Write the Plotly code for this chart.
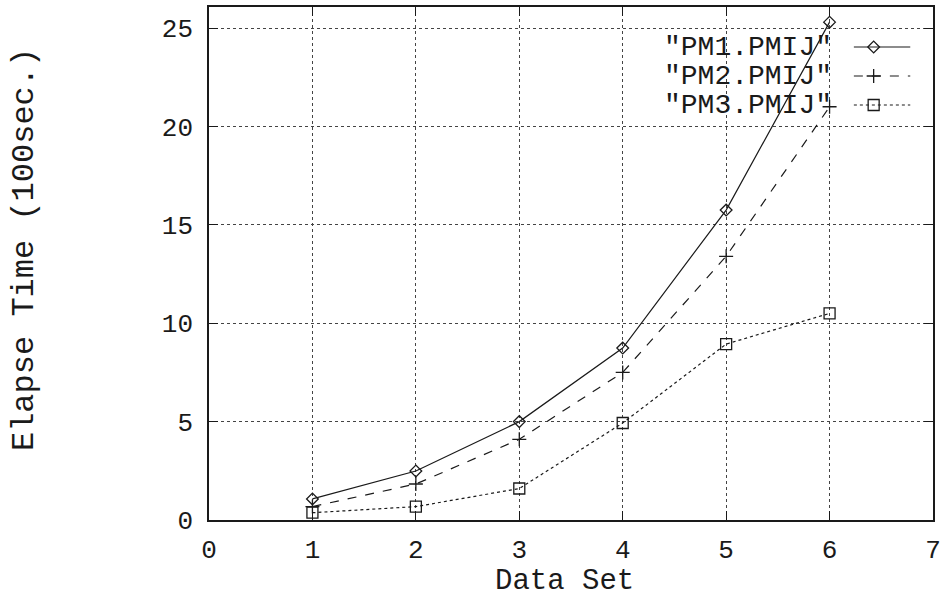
import plotly.graph_objects as go

# ---- data ----
data_set = [1, 2, 3, 4, 5, 6]
pm1 = [1.07, 2.49, 5.0, 8.74, 15.75, 25.3]
pm2 = [0.68, 1.83, 4.1, 7.5, 13.4, 21.0]
pm3 = [0.37, 0.68, 1.6, 4.93, 8.94, 10.5]
series_names = ['"PM1.PMIJ"', '"PM2.PMIJ"', '"PM3.PMIJ"']
x_ticks = [0, 1, 2, 3, 4, 5, 6, 7]
y_ticks = [0, 5, 10, 15, 20, 25]

FONT = "Liberation Mono, Courier New, monospace"
INK = "#1a1a1a"

styles = [
    dict(dash="solid", symbol="diamond-open", size=9),
    dict(dash="dash", symbol="cross-thin-open", size=10),
    dict(dash="dot", symbol="square-open", size=11),
]

fig = go.Figure()
for name, vals, st in zip(series_names, [pm1, pm2, pm3], styles):
    fig.add_trace(go.Scatter(
        x=data_set, y=vals, mode="lines+markers", name=name, showlegend=False,
        line=dict(color=INK, width=1.2, dash=st["dash"]),
        marker=dict(symbol=st["symbol"], size=st["size"], color=INK,
                    line=dict(color=INK, width=1.3)),
    ))

# ---- custom legend (text on the left, sample on the right), pixel-space overlay axes ----
leg_rows_y = [47, 76, 105]
for name, st, ry in zip(series_names, styles, leg_rows_y):
    fig.add_trace(go.Scatter(
        x=[861, 918], y=[ry, ry], xaxis="x2", yaxis="y2", mode="lines",
        line=dict(color=INK, width=1.2, dash=st["dash"]), showlegend=False,
        hoverinfo="skip"))
    fig.add_trace(go.Scatter(
        x=[881], y=[ry], xaxis="x2", yaxis="y2", mode="markers",
        marker=dict(symbol=st["symbol"], size=st["size"], color=INK,
                    line=dict(color=INK, width=1.3)), showlegend=False,
        hoverinfo="skip"))
    fig.add_annotation(x=841, y=ry, xref="x2", yref="y2", text=name,
                       showarrow=False, xanchor="right", yanchor="middle",
                       font=dict(family=FONT, size=28, color=INK))

axis_common = dict(
    showline=True, linecolor=INK, linewidth=1.6, mirror="ticks",
    ticks="inside", ticklen=9, tickcolor=INK, tickwidth=1.3,
    showgrid=True, gridcolor="#444", gridwidth=1, griddash="dot",
    zeroline=False, tickfont=dict(family=FONT, size=26, color=INK),
    ticklabeloverflow="allow",
)

fig.update_layout(
    width=946, height=598,
    margin=dict(l=209, r=5, t=7, b=78),
    paper_bgcolor="white", plot_bgcolor="white",
    showlegend=False,
    xaxis=dict(range=[0, 7], tickvals=x_ticks, ticklabelstandoff=5, **axis_common),
    yaxis=dict(range=[0, 26.07], tickvals=y_ticks, ticklabelstandoff=9, **axis_common),
    xaxis2=dict(overlaying="x", range=[209, 941], visible=False, fixedrange=True),
    yaxis2=dict(overlaying="y", range=[520, 7], visible=False, fixedrange=True),
)

fig.add_annotation(text="Data Set", xref="paper", yref="paper", x=(568 - 209) / 732,
                   y=(520 - 582) / 513, xanchor="center", yanchor="middle",
                   showarrow=False, font=dict(family=FONT, size=29, color=INK))
fig.add_annotation(text="Elapse Time (100sec.)", xref="paper", yref="paper",
                   x=(22 - 209) / 732, y=(520 - 250) / 513, textangle=-90,
                   xanchor="center", yanchor="middle", showarrow=False,
                   font=dict(family=FONT, size=32, color=INK))

fig.write_html(
    "out.html",
    config={"displayModeBar": False},
    post_script="document.body.style.margin='0';document.body.style.overflow='hidden';",
)
